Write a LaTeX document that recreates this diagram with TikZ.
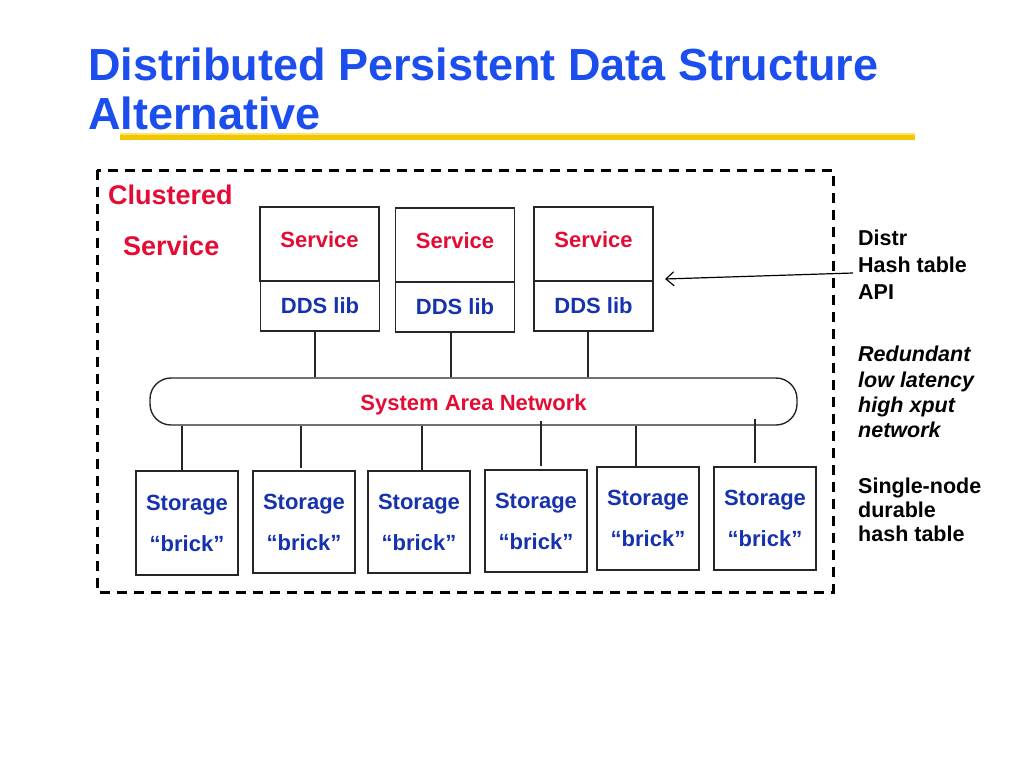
\documentclass[tikz,border=0pt]{standalone}
\usepackage{fontspec}
\setmainfont{Liberation Sans}
\usetikzlibrary{arrows.meta}
\definecolor{titleblue}{RGB}{28,78,238}
\definecolor{tred}{RGB}{228,12,52}
\definecolor{dblue}{RGB}{22,50,172}
\definecolor{gold}{RGB}{244,198,0}
\definecolor{lgold}{RGB}{250,228,110}
\begin{document}
\begin{tikzpicture}[x=1pt,y=-1pt,
  boxline/.style={draw=black!85,line width=1.4pt},
  svcbox/.style={boxline,inner sep=0pt,minimum width=119pt,text=tred,text height=16pt,text depth=10pt,font=\fontsize{22}{25}\selectfont\bfseries},
  ddsbox/.style={boxline,inner sep=0pt,minimum width=119pt,minimum height=50pt,text=dblue,font=\fontsize{22}{26}\selectfont\bfseries},
  stbox/.style={boxline,inner sep=0pt,minimum width=102pt,align=center,text=dblue,font=\fontsize{22}{41}\selectfont\bfseries},
  sidetext/.style={anchor=base west,inner sep=0pt,font=\fontsize{21.5}{26}\selectfont\bfseries},
  sideital/.style={sidetext,font=\fontsize{21.5}{26}\selectfont\bfseries\itshape},
  titletext/.style={anchor=base west,inner sep=0pt,text=titleblue,font=\fontsize{45}{50}\selectfont\bfseries},
  wire/.style={draw=black!85,line width=1.3pt}]
\useasboundingbox (0,0) rectangle (1024,768);
% title
\node[titletext] (t1) at (88,80) {Distributed Persistent Data Structure};
\node[titletext] (t2) at (88,129) {Alternative};
\fill[gold] (120,135) rectangle (915,140);
\fill[lgold] (120,133) rectangle (915,135);
% dashed cluster
\draw[line width=3pt,dash pattern=on 10pt off 7pt] (97,170) rectangle (833,592);
\node[anchor=base west,inner sep=0pt,text=tred,font=\fontsize{27}{30}\selectfont\bfseries] (cl1) at (108,204) {Clustered};
\node[anchor=base west,inner sep=0pt,text=tred,font=\fontsize{27}{30}\selectfont\bfseries] (cl2) at (123,255) {Service};
% services
\node[svcbox,minimum height=74pt] (s1) at (319.5,244) {Service};
\node[ddsbox] (d1) at (320,306) {DDS lib};
\node[svcbox,minimum height=74pt] (s2) at (455,245) {Service};
\node[ddsbox] (d2) at (455,307) {DDS lib};
\node[svcbox,minimum height=74pt] (s3) at (593.5,244) {Service};
\node[ddsbox] (d3) at (593.5,306) {DDS lib};
% network
\node[boxline,rounded corners=21pt,minimum width=647pt,minimum height=47pt,inner sep=0pt,text=tred,text height=22pt,text depth=4.6pt,font=\fontsize{22}{26}\selectfont\bfseries] (net) at (473.5,401.5) {System Area Network};
\draw[wire] ([xshift=-5pt]d1.south) -- ([xshift=-5pt]d1.south |- net.north);
\draw[wire] ([xshift=-4pt]d2.south) -- ([xshift=-4pt]d2.south |- net.north);
\draw[wire] ([xshift=-5.5pt]d3.south) -- ([xshift=-5.5pt]d3.south |- net.north);
% storage bricks
\node[stbox,minimum height=104pt] (b1) at (187,523) {Storage\\“brick”};
\node[stbox,minimum height=102pt] (b2) at (304,522) {Storage\\“brick”};
\node[stbox,minimum height=102pt] (b3) at (419,522) {Storage\\“brick”};
\node[stbox,minimum height=102pt] (b4) at (536,521) {Storage\\“brick”};
\node[stbox,minimum height=103pt] (b5) at (648,518.5) {Storage\\“brick”};
\node[stbox,minimum height=103pt] (b6) at (765,518.5) {Storage\\“brick”};
\draw[wire] ([xshift=-5pt]b1.north |- net.south) -- ([xshift=-5pt]b1.north);
\draw[wire] ([xshift=-3pt]b2.north |- net.south) -- ([xshift=-3pt,yshift=2pt]b2.north);
\draw[wire] ([xshift=3pt]b3.north |- net.south) -- ([xshift=3pt]b3.north);
\draw[wire] ([xshift=5pt,yshift=5pt]b4.north |- net.south) -- ([xshift=5pt,yshift=3pt]b4.north);
\draw[wire] ([xshift=-12pt]b5.north |- net.south) -- ([xshift=-12pt]b5.north);
\draw[wire] ([xshift=-10pt,yshift=7pt]b6.north |- net.south) -- ([xshift=-10pt,yshift=3pt]b6.north);
% side texts
\node[sidetext] (r1) at (858,245) {Distr};
\node[sidetext] (r2) at (858,272) {Hash table};
\node[sidetext] (r3) at (858,299) {API};
\node[sideital] (r4) at (858,361) {Redundant};
\node[sideital] (r5) at (858,387) {low latency};
\node[sideital] (r6) at (858,412) {high xput};
\node[sideital] (r7) at (858,437) {network};
\node[sidetext] (r8) at (858,493) {Single-node};
\node[sidetext] (r9) at (858,517) {durable};
\node[sidetext] (r10) at (858,541) {hash table};
% API arrow
\coordinate (apistart) at (853,273);
\coordinate (apiend) at (665,279);
\draw[line width=1.2pt,-{Straight Barb[length=8pt,width=14pt,line width=1.2pt]}] (apistart) -- (apiend);
\end{tikzpicture}
\end{document}
